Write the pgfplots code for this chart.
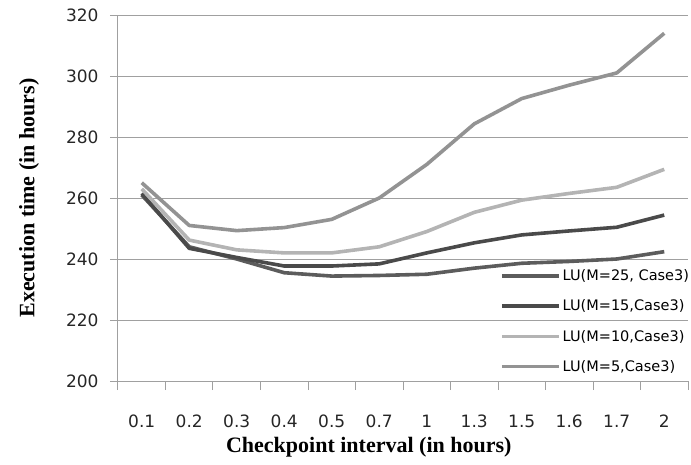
\documentclass[border=0pt]{standalone}
\usepackage{pgfplots}
\pgfplotsset{compat=1.18}
\usepackage{fontspec}
\setmainfont{DejaVu Sans}
\newfontfamily\serifb{Liberation Serif}
\definecolor{cA}{HTML}{5C5C5C}
\definecolor{cB}{HTML}{4A4A4A}
\definecolor{cC}{HTML}{B4B4B4}
\definecolor{cD}{HTML}{939393}
\definecolor{gridc}{HTML}{A0A0A0}
\begin{document}
\begin{tikzpicture}
\begin{axis}[
  scale only axis, width=570pt, height=366pt,
  xmin=-0.5, xmax=11.5, ymin=200, ymax=320,
  ytick={200,220,...,320},
  xtick={0,...,11},
  xticklabels={0.1,0.2,0.3,0.4,0.5,0.7,1,1.3,1.5,1.6,1.7,2},
  minor xtick={-0.5,0.5,...,11.5},
  major x tick style={draw=none},
  minor x tick style={gridc, line width=1pt},
  y tick style={gridc, line width=1pt},
  major tick length=8pt, minor tick length=9pt,
  tick align=outside,
  axis lines*=left,
  axis line style={gridc, line width=1pt, -},
  ymajorgrids, grid style={gridc, line width=1pt},
  /pgf/number format/assume math mode=true,
  tick label style={font=\fontsize{17}{17}\selectfont, text=black!85},
  yticklabel style={xshift=-8pt},
  xticklabel style={anchor=base, yshift=-38pt},
  ylabel={\serifb\bfseries Execution time (in hours)},
  ylabel style={font=\fontsize{22}{22}\selectfont, at={(axis description cs:-0.156,0.5)}, anchor=center},
  xlabel={\serifb\bfseries Checkpoint interval (in hours)},
  xlabel style={font=\fontsize{22}{22}\selectfont, at={(axis description cs:0.44,0)}, anchor=center, yshift=-66pt},
  legend style={draw=none, fill=none, at={(0.67,0.31)}, anchor=north west,
    font=\fontsize{14.5}{14.5}\selectfont, row sep=13.7pt, inner sep=0pt},
  legend cell align=left,
  legend image code/.code={\draw[#1, line width=3.6pt] (0pt,0pt) -- (57pt,0pt);},
  every axis plot/.append style={line width=3.6pt, line join=round},
]
\addplot[cA] coordinates {(0,261) (1,244) (2,240) (3,235.5) (4,234.4) (5,234.6) (6,235) (7,237) (8,238.6) (9,239.2) (10,240) (11,242.4)};
\addlegendentry{LU(M=25, Case3)}
\addplot[cB] coordinates {(0,261.5) (1,243.5) (2,240.5) (3,237.7) (4,237.7) (5,238.4) (6,242) (7,245.3) (8,247.9) (9,249.2) (10,250.4) (11,254.4)};
\addlegendentry{LU(M=15,Case3)}
\addplot[cC] coordinates {(0,263) (1,246.2) (2,243) (3,242) (4,242) (5,244) (6,249) (7,255.3) (8,259.3) (9,261.5) (10,263.5) (11,269.4)};
\addlegendentry{LU(M=10,Case3)}
\addplot[cD] coordinates {(0,265) (1,251) (2,249.3) (3,250.3) (4,253) (5,260) (6,271) (7,284.3) (8,292.6) (9,297) (10,301) (11,314)};
\addlegendentry{LU(M=5,Case3)}
\end{axis}
\pgfresetboundingbox
\useasboundingbox ([shift={(-118pt,-83pt)}]current axis.south west) rectangle ([shift={(3pt,15pt)}]current axis.north east);
\end{tikzpicture}
\end{document}
